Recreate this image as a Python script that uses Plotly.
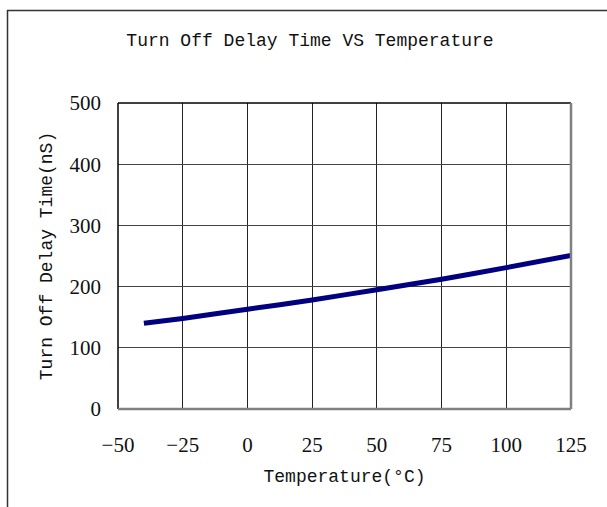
import plotly.graph_objects as go

temps = [-40, -25, 0, 25, 50, 75, 100, 125]
delay_ns = [140, 148, 163, 178, 195, 212, 231, 251]

x_ticks = [-50, -25, 0, 25, 50, 75, 100, 125]
y_ticks = [0, 100, 200, 300, 400, 500]

mono = "Liberation Mono, DejaVu Sans Mono, monospace"
serif = "Liberation Serif, DejaVu Serif, serif"

fig = go.Figure()
fig.add_trace(go.Scatter(
    x=temps, y=delay_ns, mode="lines",
    line=dict(color="#000080", width=5, shape="spline", smoothing=0.6),
    showlegend=False, hoverinfo="x+y",
))

W, H = 607, 507
L, R, T, B = 118, 36, 103, 98
pw, ph = W - L - R, H - T - B

def px2paper_x(px):
    return (px - L) / pw

def px2paper_y(py):
    return (H - B - py) / ph

fig.update_layout(
    width=W, height=H,
    margin=dict(l=L, r=R, t=T, b=B, pad=0),
    paper_bgcolor="white", plot_bgcolor="white",
    title=dict(text="Turn Off Delay Time VS Temperature",
               font=dict(family=mono, size=18, color="#111"),
               x=310 / W, xanchor="center", xref="container",
               y=1 - 40 / H, yanchor="middle", yref="container"),
    xaxis=dict(
        range=[-50, 125], tickvals=x_ticks, ticktext=[str(v).replace("-", "\u2212") for v in x_ticks],
        showgrid=True, gridcolor="#222", gridwidth=1,
        zeroline=False, showline=False, ticks="",
        tickfont=dict(family=serif, size=21, color="#111"),
        ticklabelstandoff=21,
        title=dict(text="Temperature(°C)", font=dict(family=mono, size=18, color="#111"), standoff=13),
        fixedrange=True,
    ),
    yaxis=dict(
        range=[0, 500], tickvals=y_ticks,
        showgrid=True, gridcolor="#444", gridwidth=1,
        zeroline=False, showline=False, ticks="",
        tickfont=dict(family=serif, size=21, color="#111"),
        ticklabelstandoff=16,
        title=dict(text="Turn Off Delay Time(nS)", font=dict(family=mono, size=18, color="#111"), standoff=12),
        fixedrange=True,
    ),
    shapes=[
        # plot frame: left/top black, right/bottom gray
        dict(type="line", xref="paper", yref="paper", x0=0, x1=0, y0=0, y1=1, line=dict(color="#000", width=1.5)),
        dict(type="line", xref="paper", yref="paper", x0=0, x1=1, y0=1, y1=1, line=dict(color="#000", width=1.5)),
        dict(type="line", xref="paper", yref="paper", x0=1, x1=1, y0=0, y1=1, line=dict(color="#808080", width=2.5)),
        dict(type="line", xref="paper", yref="paper", x0=0, x1=1, y0=0, y1=0, line=dict(color="#808080", width=2.5)),
        # outer figure frame (top and left edges)
        dict(type="line", xref="paper", yref="paper",
             x0=px2paper_x(7), x1=px2paper_x(W + 5), y0=px2paper_y(10.5), y1=px2paper_y(10.5),
             line=dict(color="#333", width=1.5)),
        dict(type="line", xref="paper", yref="paper",
             x0=px2paper_x(7.5), x1=px2paper_x(7.5), y0=px2paper_y(10), y1=px2paper_y(H + 5),
             line=dict(color="#333", width=1.5)),
    ],
)

fig.write_html("out.html")
